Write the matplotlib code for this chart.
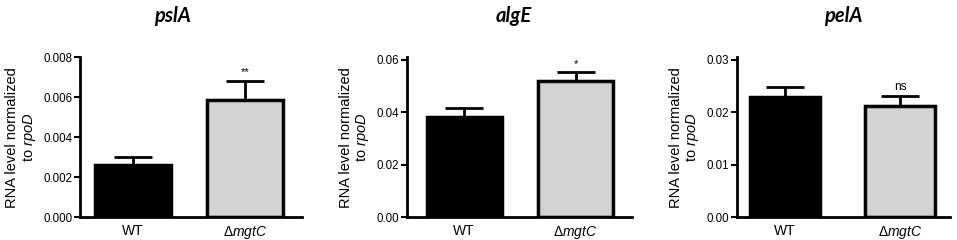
import matplotlib
matplotlib.use("Agg")
import matplotlib.pyplot as plt
import numpy as np

plt.rcParams['font.family'] = ['Liberation Sans', 'DejaVu Sans']
plt.rcParams['mathtext.fontset'] = 'custom'
plt.rcParams['mathtext.it'] = 'Liberation Sans:italic'
plt.rcParams['mathtext.rm'] = 'Liberation Sans'

categories = ['WT', 'Δ$\\mathit{mgtC}$']
genes = ['pslA', 'algE', 'pelA']

psla_mean = [0.00263, 0.00585]
psla_err = [0.00036, 0.00097]
alge_mean = [0.0381, 0.0519]
alge_err = [0.0033, 0.0033]
pela_mean = [0.0229, 0.0212]
pela_err = [0.0018, 0.0019]

signif = ['**', '*', 'ns']
yticks = [np.arange(0, 0.0081, 0.002), np.arange(0, 0.061, 0.02), np.arange(0, 0.031, 0.01)]
yfmt = ['{:.3f}', '{:.2f}', '{:.2f}']
ymax = [0.008, 0.06, 0.03]

means = [psla_mean, alge_mean, pela_mean]
errs = [psla_err, alge_err, pela_err]

W, H = 957, 240
fig = plt.figure(figsize=(W / 100, H / 100), dpi=100)

# layout in pixels: axes left, right, first bar center, spacing, bar width(px)
layout = [
    (80, 302, 133, 112, 76),
    (407, 632, 464, 111.5, 75),
    (737, 950, 784.5, 115.5, 70),
]
top_px, bot_px = 57, 217.3
title_x = [172, 514, 843]

for i in range(3):
    left, right, c0, s, bw = layout[i]
    ax = fig.add_axes([left / W, 1 - bot_px / H, (right - left) / W, (bot_px - top_px) / H])
    x = np.arange(2)
    ax.set_xlim((left - c0) / s, (right - c0) / s)
    ax.set_ylim(0, ymax[i] * (bot_px - top_px) / (bot_px - 56.5 if i == 0 else bot_px - 59.5))
    m = means[i]
    e = errs[i]
    ax.errorbar(x, m, yerr=[[0, 0], e], fmt='none', ecolor='black', elinewidth=2,
                capsize=13.5, capthick=2, zorder=1)
    ax.bar(x, m, width=bw / s, color=['black', '#d3d3d3'], edgecolor='black',
           linewidth=2.5, zorder=2)
    ax.bar(x[1:], m[1:], width=bw / s, color='none', edgecolor='white',
           linewidth=0.8, zorder=3)
    ax.bar(x[1:], m[1:], width=bw / s * 1.0, color='none', edgecolor='black',
           linewidth=1.5, zorder=4)
    ax.text(x[1], m[1] + e[1] + ymax[i] * 0.02, signif[i], ha='center', va='bottom',
            fontsize=8.5 if signif[i] == 'ns' else 8)
    ax.set_xticks(x)
    ax.set_xticklabels(categories, fontsize=10)
    ax.tick_params(axis='x', length=0, pad=5)
    ax.set_yticks(yticks[i])
    ax.set_yticklabels([yfmt[i].format(v) for v in yticks[i]], fontsize=8.3)
    ax.tick_params(axis='y', length=4, width=1.5, pad=1.5)
    for sp in ['top', 'right']:
        ax.spines[sp].set_visible(False)
    for sp in ['left', 'bottom']:
        ax.spines[sp].set_linewidth(2)
    ax.set_ylabel('RNA level normalized\nto $\\mathit{rpoD}$', fontsize=10.5, labelpad=4,
                  linespacing=1.1, multialignment='center')
    fig.text(title_x[i] / W, 1 - 16 / H, genes[i], ha='center', va='center',
             fontsize=14.5, fontweight='bold', fontstyle='italic', family=['Lato', 'DejaVu Sans'])

fig.savefig('out.png', dpi=100)
